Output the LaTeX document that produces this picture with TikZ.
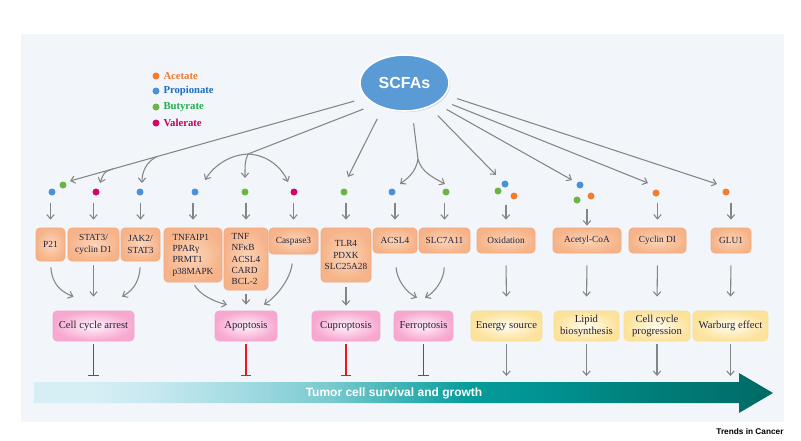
\documentclass[tikz,border=0pt]{standalone}
\usepackage{fontspec}
\setmainfont{Liberation Serif}
\newfontfamily\sansbf{Liberation Sans}
\usetikzlibrary{arrows.meta,shapes.geometric,calc,shadows}

\definecolor{panelbg}{HTML}{F2F6FB}
\definecolor{scfablue}{HTML}{5B9BD5}
\definecolor{acetate}{HTML}{F47C2C}
\definecolor{propionate}{HTML}{4A90DA}
\definecolor{butyrate}{HTML}{6CB443}
\definecolor{valerate}{HTML}{D1066B}
\definecolor{acetatetxt}{HTML}{F07A2E}
\definecolor{propionatetxt}{HTML}{1F6CC2}
\definecolor{butyratetxt}{HTML}{22AE4C}
\definecolor{valeratetxt}{HTML}{C2005F}
\definecolor{linegray}{HTML}{858585}
\definecolor{inhibred}{HTML}{F0141E}
\definecolor{genein}{HTML}{FBD5B8}
\definecolor{geneout}{HTML}{F6B389}
\definecolor{geneedge}{HTML}{F1A77A}
\definecolor{deathin}{HTML}{FFF2F9}
\definecolor{deathout}{HTML}{F7A8D1}
\definecolor{deathedge}{HTML}{F5A3CD}
\definecolor{metain}{HTML}{FFFCEE}
\definecolor{metaout}{HTML}{FCE29A}
\definecolor{metaedge}{HTML}{FADF92}
\definecolor{boxtext}{HTML}{22203A}
\definecolor{growtha}{HTML}{D6EFF5}
\definecolor{growthb}{HTML}{C8E8F0}
\definecolor{growthc}{HTML}{A8DDE4}
\definecolor{growthd}{HTML}{79CACF}
\definecolor{growthe}{HTML}{27A9AA}
\definecolor{growthf}{HTML}{059C9B}
\definecolor{growthg}{HTML}{009290}
\definecolor{growthh}{HTML}{007E7A}
\definecolor{growthi}{HTML}{00706C}
\definecolor{growthj}{HTML}{006963}

\pgfdeclarehorizontalshading{growthshade}{100bp}{color(0bp)=(growtha); color(25bp)=(growtha); color(28.7bp)=(growtha); color(33bp)=(growthb); color(38.2bp)=(growthc); color(45bp)=(growthd); color(51.7bp)=(growthe); color(54.4bp)=(growthf); color(59.8bp)=(growthg); color(66.6bp)=(growthh); color(72.6bp)=(growthi); color(75bp)=(growthj); color(100bp)=(growthj)}

\tikzset{every picture/.style={line width=0.75pt},
	link/.style={draw=linegray, line width=0.8pt},
	arr/.style={link, -{Straight Barb[length=3.2pt,width=5.5pt]}},
	inhib/.style={draw=inhibred, line width=0.9pt, -{Bar[width=8pt,line width=0.9pt]}},
	dot/.style={circle, inner sep=0pt, minimum size=5.25pt},
	gene/.style={rectangle, rounded corners=3pt, inner color=genein, outer color=geneout, draw=geneedge, line width=0.5pt, text=boxtext, font=\fontsize{7}{8.5}\selectfont, inner sep=1pt, align=center},
	death/.style={rectangle, rounded corners=3pt, inner color=deathin, outer color=deathout, draw=deathedge, line width=0.5pt, text=boxtext, font=\fontsize{8}{9.5}\selectfont, inner sep=1pt, align=center, minimum height=22.5pt},
	meta/.style={rectangle, rounded corners=3pt, inner color=metain, outer color=metaout, draw=metaedge, line width=0.5pt, text=boxtext, font=\fontsize{8}{9.5}\selectfont, inner sep=1pt, align=center, minimum height=22.5pt},
	legend/.style={anchor=west, inner sep=0.75pt, font=\bfseries\fontsize{8}{9}\selectfont}
}

\begin{document}
\begin{tikzpicture}[x=0.75pt,y=0.75pt,yscale=-1,xscale=1]
	\useasboundingbox (0,0) rectangle (801,440);
	%Shape: Panel
	\fill [panelbg] (21,34) rectangle (784,422);
	
	%Shape: Ellipse [SCFAs]
	\node [ellipse, fill=scfablue, draw=white, line width=1.2pt, minimum width=66.75pt, minimum height=42pt, inner sep=0pt, drop shadow={shadow xshift=0.9pt, shadow yshift=-0.9pt, opacity=0.3}] (scfa) at (404.5,83) {\sansbf\bfseries\fontsize{12}{14}\selectfont\color{white}SCFAs};
	
	% Legend
	\node [dot, fill=acetate] (lac) at (156,76) {};
	\node [legend, text=acetatetxt] (lactxt) at (162,76) {Acetate};
	\node [dot, fill=propionate] (lpr) at (156,91) {};
	\node [legend, text=propionatetxt] (lprtxt) at (162,91) {Propionate};
	\node [dot, fill=butyrate] (lbu) at (156,107) {};
	\node [legend, text=butyratetxt] (lbutxt) at (162,107) {Butyrate};
	\node [dot, fill=valerate] (lva) at (156,123) {};
	\node [legend, text=valeratetxt] (lvatxt) at (162,123) {Valerate};
	
	% Dots
	\node [dot, fill=propionate] (d1) at (52,192) {};
	\node [dot, fill=butyrate] (d2) at (63,185) {};
	\node [dot, fill=valerate] (d3) at (96,192) {};
	\node [dot, fill=propionate] (d4) at (140,192) {};
	\node [dot, fill=propionate] (d5) at (195,192) {};
	\node [dot, fill=butyrate] (d6) at (245,192) {};
	\node [dot, fill=valerate] (d7) at (294,192) {};
	\node [dot, fill=butyrate] (d8) at (344,192) {};
	\node [dot, fill=propionate] (d9) at (392,192) {};
	\node [dot, fill=butyrate] (d10) at (446,192) {};
	\node [dot, fill=propionate] (d11) at (505,184) {};
	\node [dot, fill=butyrate] (d12) at (498,191) {};
	\node [dot, fill=acetate] (d13) at (514,196) {};
	\node [dot, fill=propionate] (d14) at (580,185) {};
	\node [dot, fill=butyrate] (d15) at (577,200) {};
	\node [dot, fill=acetate] (d16) at (591,196) {};
	\node [dot, fill=acetate] (d17) at (656,193) {};
	\node [dot, fill=acetate] (d18) at (726,192) {};
	
	% Arrow ends
	\coordinate (t1) at (70,181);
	\coordinate (b1) at (157,156.5);
	\coordinate (b2) at (113,168.9);
	\coordinate (t2) at (100,183);
	\coordinate (t3) at (142,183);
	\coordinate (j2) at (248,154);
	\coordinate (t4) at (205,180);
	\coordinate (t5) at (245,178);
	\coordinate (t6) at (288,182);
	\coordinate (t7) at (348,177);
	\coordinate (j4) at (418,159);
	\coordinate (t8) at (400,184);
	\coordinate (t9) at (445,184);
	\coordinate (t10) at (496,175);
	\coordinate (t11) at (572,180);
	\coordinate (t12) at (648,183);
	\coordinate (t13) at (717,184);
	\coordinate (drow) at (0,192);
	\coordinate (band) at (0,376);
	
	%Straight Lines
	\draw [arr, shorten <=9pt] (scfa.201) -- (t1);
	%Curve Lines
	\draw [arr] (b2) .. controls (104,172) .. (t2);
	\draw [arr] (b1) .. controls (146,162) and (142,172) .. (t3);
	%Straight Lines
	\draw [link, shorten <=9pt] (scfa.216) -- (j2);
	%Curve Lines
	\draw [arr] (j2) .. controls (228,155) and (213,167) .. (t4);
	\draw [arr] (j2) .. controls (245,162) .. (t5);
	\draw [arr] (j2) .. controls (268,155) and (282,168) .. (t6);
	%Straight Lines
	\draw [arr, shorten <=9pt] (scfa.229) -- (t7);
	\draw [link, shorten <=9pt] (scfa.285) -- (j4);
	%Curve Lines
	\draw [arr] (j4) .. controls (416,172) and (408,178) .. (t8);
	\draw [arr] (j4) .. controls (421,172) and (434,178) .. (t9);
	%Straight Lines
	\draw [arr, shorten <=9pt] (scfa.316) -- (t10);
	\draw [arr, shorten <=9pt] (scfa.327) -- (t11);
	\draw [arr, shorten <=9pt] (scfa.335) -- (t12);
	\draw [arr, shorten <=9pt] (scfa.344) -- (t13);
	
	% Gene boxes
	\node [gene, minimum width=21.75pt, minimum height=24.75pt] (p21) at (50.5,244.5) {P21};
	\node [gene, minimum width=38.25pt, minimum height=24.75pt] (stat) at (93.5,244.5) {STAT3/\\cyclin D1};
	\node [gene, minimum width=29.25pt, minimum height=24.75pt] (jak) at (140.5,244.5) {JAK2/\\STAT3};
	\node [gene, minimum width=43.5pt, minimum height=40.5pt, align=left] (tnfaip) at (193,255) {TNFAIP1\\PPARγ\\PRMT1\\p38MAPK};
	\node [gene, minimum width=33pt, minimum height=46.5pt, align=left] (tnf) at (246,259) {TNF\\NFκB\\ACSL4\\CARD\\BCL-2};
	\node [gene, minimum width=36.75pt, minimum height=19.5pt] (casp) at (293.5,241) {Caspase3};
	\node [gene, minimum width=37.5pt, minimum height=40.5pt] (tlr) at (346,255) {TLR4\\PDXK\\SLC25A28};
	\node [gene, minimum width=33pt, minimum height=18.75pt] (acsl) at (395,240.5) {ACSL4};
	\node [gene, minimum width=38.25pt, minimum height=18.75pt] (slc) at (444.5,240.5) {SLC7A11};
	\node [gene, minimum width=43.5pt, minimum height=18.75pt] (oxid) at (506,240.5) {Oxidation};
	\node [gene, minimum width=51pt, minimum height=18.75pt] (acetyl) at (587,240.5) {Acetyl-CoA};
	\node [gene, minimum width=42.75pt, minimum height=18.75pt] (cyclin) at (657.5,240.5) {Cyclin DI};
	\node [gene, minimum width=30pt, minimum height=18.75pt] (glu) at (731,240.5) {GLU1};
	
	% Outcome boxes
	\node [death, minimum width=60.75pt] (arrest) at (93.5,326) {Cell cycle arrest};
	\node [death, minimum width=46.5pt] (apop) at (246,326) {Apoptosis};
	\node [death, minimum width=51pt] (cupro) at (346,326) {Cuproptosis};
	\node [death, minimum width=44.25pt] (ferro) at (423.5,326) {Ferroptosis};
	\node [meta, minimum width=53.25pt] (energy) at (506.5,326) {Energy source};
	\node [meta, minimum width=48.75pt] (lipid) at (586.5,326) {Lipid\\biosynthesis};
	\node [meta, minimum width=49.5pt] (cellprog) at (657,326) {Cell cycle\\progression};
	\node [meta, minimum width=56.25pt] (warburg) at (730.5,326) {Warburg effect};
	
	%Straight Lines: dots to genes
	\draw [arr, shorten <=8pt, shorten >=6pt] (p21.north |- drow) -- (p21.north);
	\draw [arr, shorten <=8pt, shorten >=6pt] (stat.north |- drow) -- (stat.north);
	\draw [arr, shorten <=8pt, shorten >=6pt] (jak.north |- drow) -- (jak.north);
	\draw [arr, shorten <=8pt, shorten >=6pt] (tnfaip.north |- drow) -- (tnfaip.north);
	\draw [arr, shorten <=8pt, shorten >=6pt] (tnf.north |- drow) -- (tnf.north);
	\draw [arr, shorten <=8pt, shorten >=6pt] (casp.north |- drow) -- (casp.north);
	\draw [arr, shorten <=8pt, shorten >=6pt] (tlr.north |- drow) -- (tlr.north);
	\draw [arr, shorten <=8pt, shorten >=6pt] (acsl.north |- drow) -- (acsl.north);
	\draw [arr, shorten <=8pt, shorten >=6pt] (slc.north |- drow) -- (slc.north);
	\draw [arr, shorten <=9.5pt, shorten >=6pt] (oxid.north |- drow) -- (oxid.north);
	\draw [arr, shorten <=13pt, shorten >=1.5pt] (acetyl.north |- drow) -- (acetyl.north);
	\draw [arr, shorten <=8pt, shorten >=6pt] (cyclin.north |- drow) -- (cyclin.north);
	\draw [arr, shorten <=8pt, shorten >=6pt] (glu.north |- drow) -- (glu.north);
	
	%Curve Lines: genes to outcomes
	\draw [arr, shorten <=4.5pt] (p21.south) .. controls (52,285) and (62,292) .. ($(arrest.north)+(-20,-14)$);
	\draw [arr, shorten <=3pt, shorten >=10.5pt] (stat.south) -- (arrest.north);
	\draw [arr, shorten <=4.5pt] (jak.south) .. controls (139,285) and (130,292) .. ($(arrest.north)+(28.5,-14)$);
	\draw [arr, shorten <=2.5pt] (tnfaip.south) .. controls (200,295) and (215,302) .. ($(apop.north)+(-19,-6)$);
	\draw [arr, shorten <=2.5pt, shorten >=4.5pt] (tnf.south) -- (apop.north);
	\draw [arr, shorten <=7pt] (casp.south) .. controls (290,280) and (276,297) .. ($(apop.north)+(18,-6)$);
	\draw [arr, shorten <=3.75pt, shorten >=3.75pt] (tlr.south) -- (cupro.north);
	\draw [arr, shorten <=10.5pt] (acsl.south) .. controls (397,280) and (406,292) .. ($(ferro.north)+(-6.5,-13)$);
	\draw [arr, shorten <=10.5pt] (slc.south) .. controls (444,280) and (435,292) .. ($(ferro.north)+(1.5,-13)$);
	\draw [arr, shorten <=9pt, shorten >=10.5pt] (oxid.south) -- (energy.north);
	\draw [arr, shorten <=9pt, shorten >=10.5pt] (acetyl.south) -- (lipid.north);
	\draw [arr, shorten <=9pt, shorten >=10.5pt] (cyclin.south) -- (cellprog.north);
	\draw [arr, shorten <=9pt, shorten >=10.5pt] (glu.south) -- (warburg.north);
	
	%Shape: Growth arrow
	\shade [shading=growthshade] (34,382) -- (739,382) -- (739,373) -- (773,393) -- (739,413) -- (739,403) -- (34,403) -- cycle;
	% Text Node
	\node [inner sep=0.75pt, text=white, font=\sansbf\bfseries\fontsize{9}{11}\selectfont] (growth) at (394,393) {Tumor cell survival and growth};
	
	%Straight Lines: outcomes to growth
	\draw [inhib, shorten <=2pt] (arrest.south) -- (arrest.south |- band);
	\draw [inhib, shorten <=2pt] (apop.south) -- (apop.south |- band);
	\draw [inhib, shorten <=2pt] (cupro.south) -- (cupro.south |- band);
	\draw [inhib, shorten <=2pt] (ferro.south) -- (ferro.south |- band);
	\draw [arr, shorten <=2pt] (energy.south) -- (energy.south |- band);
	\draw [arr, shorten <=2pt] (lipid.south) -- (lipid.south |- band);
	\draw [arr, shorten <=2pt] (cellprog.south) -- (cellprog.south |- band);
	\draw [arr, shorten <=2pt] (warburg.south) -- (warburg.south |- band);
	
	% Text Node
	\node [anchor=east, inner sep=0pt, font=\sansbf\bfseries\fontsize{6.2}{7}\selectfont] (journal) at (784,432) {Trends in Cancer};
\end{tikzpicture}
\end{document}
